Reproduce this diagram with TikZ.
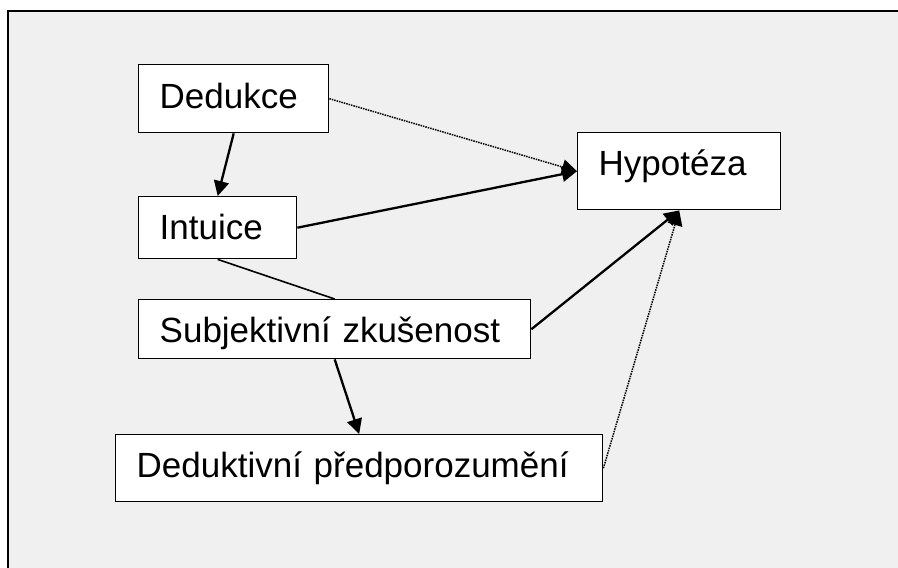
\documentclass[tikz,border=0pt]{standalone}
\usepackage{fontspec}
\setmainfont{Liberation Sans}
\usetikzlibrary{arrows.meta,positioning}
\definecolor{pagegray}{HTML}{F0F0F0}
\tikzset{
  textbox/.style={draw, line width=1.4pt, fill=white, anchor=north west,
    align=left, inner xsep=21pt, inner ysep=0pt, text height=43pt,
    font=\fontsize{35pt}{40pt}\selectfont},
  arr/.style={-{Triangle[length=15pt,width=15pt]}, line width=2.3pt},
  dotarr/.style={arr, line width=1.5pt, densely dotted},
  plainline/.style={line width=1.6pt}
}
\begin{document}
\begin{tikzpicture}[x=1pt,y=-1pt]
  \useasboundingbox (0,0) rectangle (898,568);
  \draw[line width=1.6pt, fill=pagegray] (8,11) rectangle (912,582);
  % boxes
  \node[textbox, text width=148pt, text height=44pt, text depth=24pt] (dedukce) at (138,64) {Dedukce};
  \node[textbox, text width=116pt, text depth=19pt] (intuice) at (138,196) {Intuice};
  \node[textbox, text width=350pt, text depth=16pt] (subj) at (138,299) {Subjektivní zkušenost};
  \node[textbox, text width=445pt, text depth=24pt] (predpor) at (115,434) {Deduktivní předporozumění};
  \node[textbox, text width=161pt, text depth=34pt] (hypoteza) at (577,132) {Hypotéza};
  % connectors
  \draw[dotarr] (dedukce.east) -- (hypoteza.west);
  \draw[arr] (intuice.east) -- (hypoteza.west);
  \draw[arr] (dedukce.south) -- (intuice.north);
  \draw[plainline] (intuice.south) -- (subj.north);
  \draw[arr] (subj.south) -- (predpor.north);
  \draw[arr] (subj.east) -- (hypoteza.south);
  \draw[dotarr] (predpor.east) -- (hypoteza.south);
\end{tikzpicture}
\end{document}
